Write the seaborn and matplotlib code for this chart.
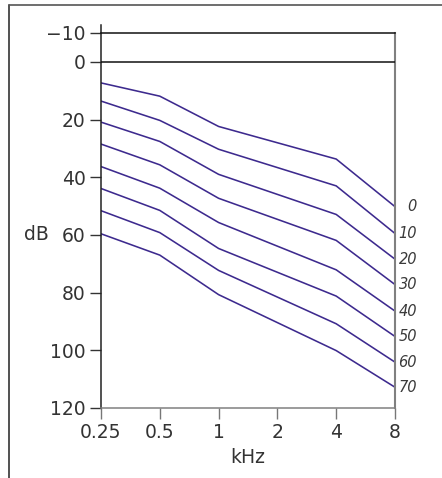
import numpy as np
import pandas as pd
import matplotlib
matplotlib.use("Agg")
import matplotlib.pyplot as plt
import seaborn as sns

# ---- data ----
freqs_khz = [0.25, 0.5, 1, 4, 8]
levels = [0, 10, 20, 30, 40, 50, 60, 70]
curve_0 = [7.3, 11.9, 22.4, 33.7, 50.2]
curve_10 = [13.6, 20.3, 30.3, 43.0, 59.5]
curve_20 = [20.9, 27.6, 39.0, 52.9, 68.4]
curve_30 = [28.5, 35.7, 47.3, 61.9, 77.2]
curve_40 = [36.3, 43.8, 55.7, 72.1, 86.4]
curve_50 = [43.9, 51.5, 64.7, 81.2, 95.2]
curve_60 = [51.6, 59.2, 72.3, 90.8, 104.1]
curve_70 = [59.6, 67.0, 80.7, 100.1, 112.8]
curves = [curve_0, curve_10, curve_20, curve_30, curve_40, curve_50, curve_60, curve_70]
xtick_vals = [0.25, 0.5, 1, 2, 4, 8]
xtick_labels = ["0.25", "0.5", "1", "2", "4", "8"]
ytick_vals = [-10, 0, 20, 40, 60, 80, 100, 120]
ytick_labels = ["\u221210", "0", "20", "40", "60", "80", "100", "120"]

rows = []
for lv, vals in zip(levels, curves):
    for f, v in zip(freqs_khz, vals):
        rows.append({"kHz": f, "dB": v, "level": lv})
df = pd.DataFrame(rows)

sns.set_style("white")
plt.rcParams["font.family"] = ["DejaVu Sans"]

W, H = 442, 478
fig = plt.figure(figsize=(W / 100, H / 100), dpi=100)
ax = fig.add_axes([101 / W, 1 - 408 / H, (395 - 101) / W, (408 - 33) / H])

line_color = "#3d2a8e"
sns.lineplot(data=df, x="kHz", y="dB", hue="level",
             palette=[line_color] * len(levels), legend=False,
             linewidth=1.15, ax=ax, estimator=None, sort=True)

ax.set_xscale("log", base=2)
ax.set_xlim(0.25, 8)
ax.set_ylim(120, -10)
ax.set_xticks(xtick_vals)
ax.set_xticklabels(xtick_labels)
ax.minorticks_off()
ax.set_yticks(ytick_vals)
ax.set_yticklabels(ytick_labels)

txt_color = "#333333"
ax.tick_params(axis="x", direction="out", length=8, width=1.0, color="#777777",
               labelsize=13.5, labelcolor=txt_color, pad=3, bottom=True)
ax.tick_params(axis="y", direction="out", length=8, width=1.0, color="#333333",
               labelsize=13.5, labelcolor=txt_color, pad=3, left=True)

# zero reference line
ax.axhline(0, color="#111111", lw=1.1, zorder=3)

for side in ["left", "right", "top", "bottom"]:
    ax.spines[side].set_visible(True)
ax.spines["left"].set_color("#222222")
ax.spines["left"].set_linewidth(1.1)
ax.spines["left"].set_bounds(-12.8, 120)
ax.spines["top"].set_color("#111111")
ax.spines["top"].set_linewidth(1.1)
ax.spines["right"].set_color("#808080")
ax.spines["right"].set_linewidth(1.5)
ax.spines["bottom"].set_color("#808080")
ax.spines["bottom"].set_linewidth(1.1)

# right-hand level labels
for lv, vals in zip(levels, curves):
    ax.annotate(str(lv), xy=(freqs_khz[-1], vals[-1]), xytext=(22, 0),
                textcoords="offset pixels", ha="right", va="center",
                fontsize=10.5, style="italic", color="#3a3a3a",
                annotation_clip=False)

ax.set_xlabel("kHz", fontsize=13.5, color=txt_color, labelpad=4)
ax.set_ylabel("dB", fontsize=13.5, color=txt_color, rotation=0,
              ha="center", va="center")
ax.yaxis.set_label_coords((36 - 101) / 294, (120 - 60) / 130)

# figure frame (left and top edges)
fig.add_artist(plt.Line2D([9 / W, 9 / W], [0, 1 - 5 / H],
                          transform=fig.transFigure, color="#333333", lw=1.2))
fig.add_artist(plt.Line2D([9 / W, 1], [1 - 5 / H, 1 - 5 / H],
                          transform=fig.transFigure, color="#555555", lw=1.2))

fig.savefig("out.png", dpi=100)
